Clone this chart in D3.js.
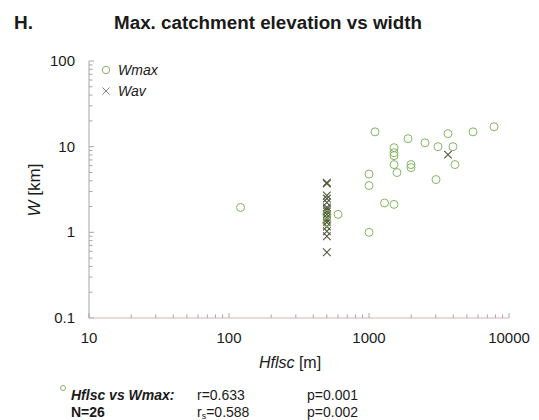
<!DOCTYPE html>
<html><head><meta charset="utf-8">
<script src="https://cdn.jsdelivr.net/npm/d3@7"></script>
<style>body{margin:0;background:#fff}svg{display:block;font-family:"Liberation Sans",Arial,sans-serif}</style>
</head><body>
<script>
// Data
const wmaxH = [121, 601, 1000, 1000, 1000, 1104, 1291, 1509, 1509, 1509, 1509, 1509, 1585, 1900, 1995, 1995, 2512, 3011, 3111, 3666, 3981, 4112, 5534, 7817, 500, 500];
const wmaxW = [1.95, 1.62, 4.79, 3.52, 1.0, 14.9, 2.2, 2.12, 9.73, 8.5, 7.86, 6.18, 4.99, 12.4, 6.18, 5.7, 11.1, 4.13, 10, 14.2, 10, 6.18, 14.9, 17.1, 1.62, 1.3];
const wavH = [500, 500, 500, 500, 500, 500, 500, 500, 500, 500, 500, 500, 500, 500, 500, 500, 3666];
const wavW = [3.81, 3.7, 2.69, 2.48, 2.23, 1.95, 1.85, 1.75, 1.62, 1.49, 1.4, 1.31, 1.17, 1.03, 0.9, 0.585, 8.07];
const xTicks = [10, 100, 1000, 10000];
const yTicks = [0.1, 1, 10, 100];

const W = 539, H = 420;
const svg = d3.select("body").append("svg").attr("width", W).attr("height", H);
const x = d3.scaleLog().domain([10, 10000]).range([89, 509]);
const y = d3.scaleLog().domain([0.1, 100]).range([318, 61]);

const minors = [];
for (let d = 0.1; d < 100; d *= 10) for (let k = 2; k <= 9; k++) minors.push(d * k);
const xminors = [];
for (let d = 10; d < 10000; d *= 10) for (let k = 2; k <= 9; k++) xminors.push(d * k);

const axisCol = "#a6a6a6", txt = "#1a1a1a";
// y axis
svg.append("line").attr("x1", 89).attr("x2", 89).attr("y1", y(100)).attr("y2", y(0.1)).attr("stroke", axisCol);
svg.selectAll(".ymin").data(minors).join("line").attr("x1", 89).attr("x2", 92.5).attr("y1", d => y(d)).attr("y2", d => y(d)).attr("stroke", axisCol);
svg.selectAll(".ymaj").data(yTicks).join("line").attr("x1", 89).attr("x2", 94).attr("y1", d => y(d)).attr("y2", d => y(d)).attr("stroke", axisCol);
svg.selectAll(".ylab").data(yTicks).join("text").attr("x", 75).attr("y", d => y(d) + 5).attr("text-anchor", "end").attr("font-size", 15).attr("fill", txt).text(d => d3.format("~g")(d));
// x axis
svg.append("line").attr("x1", 89).attr("x2", 509).attr("y1", y(0.1)).attr("y2", y(0.1)).attr("stroke", "#d9b5b5");
svg.selectAll(".xmin").data(xminors).join("line").attr("x1", d => x(d)).attr("x2", d => x(d)).attr("y1", y(0.1)).attr("y2", y(0.1) - 3.5).attr("stroke", axisCol);
svg.selectAll(".xmaj").data(xTicks).join("line").attr("x1", d => x(d)).attr("x2", d => x(d)).attr("y1", y(0.1)).attr("y2", y(0.1) - 5).attr("stroke", axisCol);
svg.selectAll(".xlab").data(xTicks).join("text").attr("x", d => x(d)).attr("y", 343).attr("text-anchor", "middle").attr("font-size", 15).attr("fill", txt).text(d => d);

// titles
svg.append("text").attr("x", 14).attr("y", 29).attr("font-size", 19).attr("font-weight", "bold").attr("fill", txt).text("H.");
svg.append("text").attr("x", 268).attr("y", 29).attr("text-anchor", "middle").attr("font-size", 18.8).attr("font-weight", "bold").attr("fill", txt).text("Max. catchment elevation vs width");
const yl = svg.append("text").attr("transform", "translate(40,190) rotate(-90)").attr("text-anchor", "middle").attr("font-size", 17).attr("fill", txt);
yl.append("tspan").attr("font-style", "italic").text("W");
yl.append("tspan").text(" [km]");
const xl = svg.append("text").attr("x", 290).attr("y", 368).attr("text-anchor", "middle").attr("font-size", 16).attr("fill", txt);
xl.append("tspan").attr("font-style", "italic").text("Hflsc");
xl.append("tspan").text(" [m]");

const green = "#86b463", crossCol = "#4f5838";
// Wav crosses
const cs = 3.8;
const wav = wavH.map((h, i) => [h, wavW[i]]);
const cg = svg.append("g").attr("stroke", crossCol).attr("stroke-width", 1.1);
wav.forEach(([h, w]) => {
  const cx = x(h), cy = y(w);
  cg.append("path").attr("d", `M${cx-cs},${cy-cs}L${cx+cs},${cy+cs}M${cx-cs},${cy+cs}L${cx+cs},${cy-cs}`);
});
// Wmax circles
const wmax = wmaxH.map((h, i) => [h, wmaxW[i]]);
svg.append("g").selectAll("circle").data(wmax).join("circle")
  .attr("cx", d => x(d[0])).attr("cy", d => y(d[1])).attr("r", 4)
  .attr("fill", "none").attr("stroke", green).attr("stroke-width", 1);

// legend
svg.append("circle").attr("cx", 106).attr("cy", 70).attr("r", 3.7).attr("fill", "none").attr("stroke", green);
svg.append("text").attr("x", 118).attr("y", 75).attr("font-size", 14).attr("font-style", "italic").attr("fill", txt).text("Wmax");
const lx = 106, ly = 91;
svg.append("path").attr("d", `M${lx-3.5},${ly-3.5}L${lx+3.5},${ly+3.5}M${lx-3.5},${ly+3.5}L${lx+3.5},${ly-3.5}`).attr("stroke", "#808080");
svg.append("text").attr("x", 118).attr("y", 96).attr("font-size", 14).attr("font-style", "italic").attr("fill", txt).text("Wav");

// stats
svg.append("circle").attr("cx", 63).attr("cy", 388).attr("r", 2.5).attr("fill", "none").attr("stroke", green);
svg.append("text").attr("x", 71).attr("y", 400).attr("font-size", 14).attr("font-weight", "bold").attr("font-style", "italic").attr("fill", txt).text("Hflsc vs Wmax:");
svg.append("text").attr("x", 71).attr("y", 417).attr("font-size", 14).attr("font-weight", "bold").attr("fill", txt).text("N=26");
svg.append("text").attr("x", 197).attr("y", 400).attr("font-size", 14).attr("fill", txt).text("r=0.633");
const rs = svg.append("text").attr("x", 197).attr("y", 417).attr("font-size", 14).attr("fill", txt);
rs.append("tspan").text("r");
rs.append("tspan").attr("font-size", 9).attr("dy", 2).text("s");
rs.append("tspan").attr("dy", -2).text("=0.588");
svg.append("text").attr("x", 307).attr("y", 400).attr("font-size", 14).attr("fill", txt).text("p=0.001");
svg.append("text").attr("x", 307).attr("y", 417).attr("font-size", 14).attr("fill", txt).text("p=0.002");
</script>
</body></html>
